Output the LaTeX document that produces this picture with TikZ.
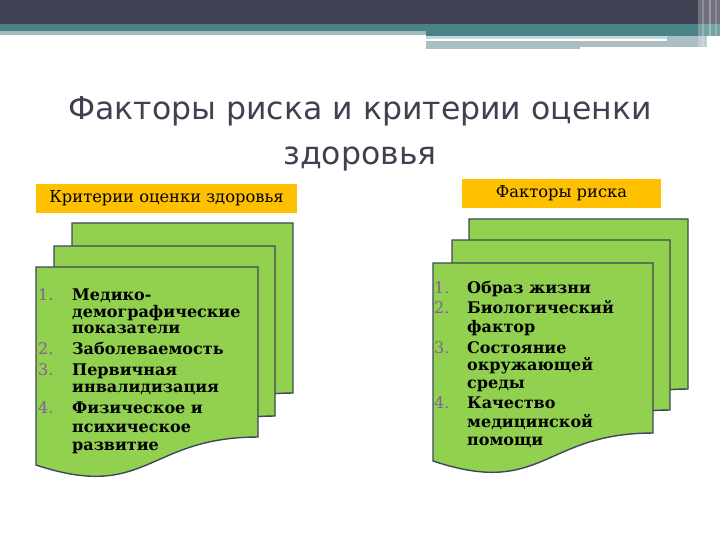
\documentclass[tikz,border=0pt]{standalone}
\usepackage{fontspec}
\setmainfont{DejaVu Serif}
\newfontfamily\titlefont{DejaVu Sans}
\definecolor{topdark}{RGB}{65,65,84}
\definecolor{teal1}{RGB}{74,131,133}
\definecolor{teal2}{RGB}{160,190,192}
\definecolor{greybar}{RGB}{170,190,195}
\definecolor{titlegray}{RGB}{64,64,80}
\definecolor{labelorange}{RGB}{255,192,0}
\definecolor{sheetgreen}{RGB}{146,208,80}
\definecolor{sheetline}{RGB}{60,72,88}
\definecolor{numcol}{RGB}{130,95,150}
\newcommand\docsheet[4]{%
  \filldraw[sheet] (#1,#2) -- ({#1+#3},#2) -- ({#1+#3},{#2+0.802*#4})
    .. controls ({#1+0.5*#3},{#2+0.802*#4}) and ({#1+0.5*#3},{#2+1.1075*#4}) .. (#1,{#2+0.934*#4}) -- cycle;}
\tikzset{
  sheet/.style={fill=sheetgreen, draw=sheetline, line width=1.4pt, line join=miter},
  orangelabel/.style={fill=labelorange, inner sep=0pt, font=\fontsize{16.3}{18}\selectfont},
  itemtext/.style={anchor=base west, inner sep=0pt, font=\fontsize{16}{18}\selectfont\bfseries},
  itemnum/.style={anchor=base west, inner sep=0pt, text=numcol, font=\fontsize{16}{18}\selectfont},
}
\begin{document}
\begin{tikzpicture}[x=1pt,y=-1pt]
\useasboundingbox (0,0) rectangle (720,540);
% top decoration
\fill[topdark] (0,0) rectangle (720,24);
\fill[teal1] (0,24) rectangle (720,31);
\fill[teal2] (0,31) rectangle (426,35);
\fill[teal1] (426,31) rectangle (720,36);
\fill[teal2!60] (426,36) rectangle (667,39);
\fill[greybar] (667,36) rectangle (707,41);
\fill[greybar] (426,41) rectangle (707,47);
\fill[greybar] (426,47) rectangle (580,49);
\fill[white, opacity=0.25] (698,0) rectangle (720,48);
\fill[white, opacity=0.2] (702,0) rectangle (704,48);
\fill[white, opacity=0.3] (709,0) rectangle (711,48);
\fill[white, opacity=0.2] (715,0) rectangle (717,48);
% title
\node[text=titlegray, font=\titlefont\fontsize{31.5}{45}\selectfont, align=center] (title) at (360,134)
  {Факторы риска и критерии оценки\\здоровья};
% labels
\node[orangelabel, minimum width=261pt, minimum height=29pt] (lab1) at (166.5,198.5) {Критерии оценки здоровья};
\node[orangelabel, minimum width=199pt, minimum height=29pt] (lab2) at (561.5,193.5) {Факторы риска};
% left sheets
\docsheet{72}{223}{221}{212}
\docsheet{54}{246}{221}{212}
\docsheet{36}{267}{222}{212}
% right sheets
\docsheet{469}{219}{219}{212}
\docsheet{452}{240}{218}{212}
\docsheet{433}{263}{220}{212}
% left list
\node[itemnum] (ln1) at (38,300) {1.};
\node[itemnum] (ln2) at (38,354) {2.};
\node[itemnum] (ln3) at (38,375) {3.};
\node[itemnum] (ln4) at (38,413) {4.};
\foreach \yy/\tt [count=\i] in {300/Медико-,317/демографические,333/показатели,354/Заболеваемость,375/Первичная,392/инвалидизация,413/Физическое и,432/психическое,450/развитие}
  \node[itemtext] (lt\i) at (72,\yy) {\tt};
% right list
\node[itemnum] (rn1) at (434,293) {1.};
\node[itemnum] (rn2) at (434,313) {2.};
\node[itemnum] (rn3) at (434,353) {3.};
\node[itemnum] (rn4) at (434,408) {4.};
\foreach \yy/\tt [count=\i] in {293/Образ жизни,313/Биологический,332/фактор,353/Состояние,370/окружающей,388/среды,408/Качество,427/медицинской,445/помощи}
  \node[itemtext] (rt\i) at (467,\yy) {\tt};
\end{tikzpicture}
\end{document}
